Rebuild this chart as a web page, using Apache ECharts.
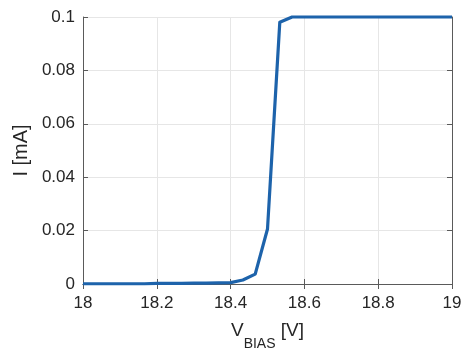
<!DOCTYPE html>
<html>
<head>
<meta charset="utf-8">
<script src="https://cdn.jsdelivr.net/npm/echarts@6/dist/echarts.min.js"></script>
<style>
html,body{margin:0;padding:0;background:#fff;}
#chart{width:464px;height:351px;}
</style>
</head>
<body>
<div id="chart"></div>
<script>
// Bias voltage sweep (V), step 1/30 V
const vBias = [18, 18.0333, 18.0667, 18.1, 18.1333, 18.1667, 18.2, 18.2333, 18.2667, 18.3,
  18.3333, 18.3667, 18.4, 18.4333, 18.4667, 18.5, 18.5333, 18.5667, 18.6, 18.6333,
  18.6667, 18.7, 18.7333, 18.7667, 18.8, 18.8333, 18.8667, 18.9, 18.9333, 18.9667, 19];
// Measured current (mA), clipped at compliance of 0.1 mA
const current = [0.0001, 0.0001, 0.0001, 0.0001, 0.0001, 0.0001, 0.0002, 0.0002, 0.0002, 0.0003,
  0.0003, 0.0004, 0.0005, 0.0015, 0.0037, 0.0206, 0.098, 0.1, 0.1, 0.1,
  0.1, 0.1, 0.1, 0.1, 0.1, 0.1, 0.1, 0.1, 0.1, 0.1, 0.1];
const xTicks = [18, 18.2, 18.4, 18.6, 18.8, 19];
const yTicks = [0, 0.02, 0.04, 0.06, 0.08, 0.1];

const font = 'Liberation Sans, Arial, sans-serif';
const textColor = '#262626';
const axisColor = '#5a5a5a';
const gridColor = '#e6e6e6';

// Box-style axis: inward ticks, no labels (used for top and right edges)
const boxAxis = (extra) => Object.assign({
  type: 'value',
  axisLine: {show: true, lineStyle: {color: axisColor, width: 1}},
  axisTick: {show: true, inside: true, length: 5, lineStyle: {color: axisColor}},
  axisLabel: {show: false}, splitLine: {show: false}
}, extra);

const chart = echarts.init(document.getElementById('chart'), null, {renderer: 'canvas'});
chart.setOption({
  animation: false,
  backgroundColor: '#ffffff',
  grid: {left: 83, right: 12, top: 17, bottom: 67, containLabel: false, outerBoundsMode: 'none'},
  xAxis: [{
    type: 'value', min: xTicks[0], max: xTicks[xTicks.length - 1], interval: 0.2,
    axisLine: {show: true, lineStyle: {color: axisColor, width: 1}},
    axisTick: {show: true, inside: true, length: 5, lineStyle: {color: axisColor}},
    axisLabel: {color: textColor, fontSize: 17, fontFamily: font, margin: 11,
      formatter: v => String(+v.toFixed(1))},
    splitLine: {show: true, lineStyle: {color: gridColor, width: 1}},
    name: '{v|V}{s|BIAS}{v| [V]}',
    nameLocation: 'middle', nameGap: 27,
    nameTextStyle: {
      rich: {
        v: {fontSize: 19, fontFamily: font, color: textColor},
        s: {fontSize: 14, fontFamily: font, color: textColor, padding: [26, 0, 0, 0]}
      }
    }
  }, boxAxis({position: 'top', min: xTicks[0], max: xTicks[xTicks.length - 1], interval: 0.2})],
  yAxis: [{
    type: 'value', min: yTicks[0], max: yTicks[yTicks.length - 1], interval: 0.02,
    axisLine: {show: true, lineStyle: {color: axisColor, width: 1}},
    axisTick: {show: true, inside: true, length: 5, lineStyle: {color: axisColor}},
    axisLabel: {color: textColor, fontSize: 17, fontFamily: font, margin: 8,
      formatter: v => String(+v.toFixed(2))},
    splitLine: {show: true, lineStyle: {color: gridColor, width: 1}},
    name: 'I [mA]', nameLocation: 'middle', nameGap: 42, nameRotate: 90,
    nameTextStyle: {fontSize: 20, fontFamily: font, color: textColor}
  }, boxAxis({position: 'right', min: yTicks[0], max: yTicks[yTicks.length - 1], interval: 0.02})],
  series: [{
    type: 'line',
    data: vBias.map((v, i) => [v, current[i]]),
    showSymbol: false,
    lineStyle: {color: '#1d63ab', width: 3.2, join: 'round'},
    clip: false
  }]
});
</script>
</body>
</html>
